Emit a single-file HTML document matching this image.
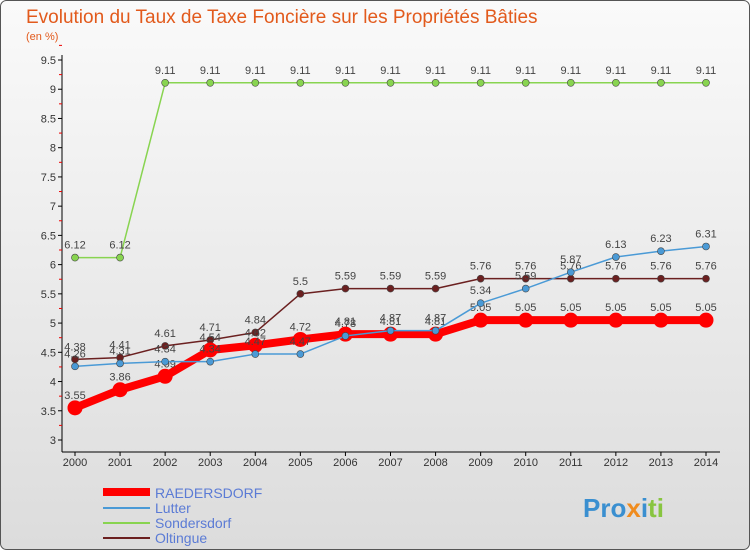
<!DOCTYPE html>
<html><head><meta charset="utf-8"><style>
body{margin:0;width:750px;height:550px;overflow:hidden;font-family:"Liberation Sans",sans-serif}
</style></head><body>
<svg width="750" height="550" xmlns="http://www.w3.org/2000/svg">
<defs><linearGradient id="bg" x1="0" y1="0" x2="0" y2="1"><stop offset="0" stop-color="#fafafa"/><stop offset="1" stop-color="#dcdcdc"/></linearGradient></defs>
<rect x="0.5" y="0.5" width="749" height="549" rx="6" fill="url(#bg)" stroke="#555"/>
<text x="26" y="23" font-size="19" fill="#e25a1c">Evolution du Taux de Taxe Foncière sur les Propriétés Bâties</text>
<text x="26" y="40" font-size="11" fill="#e25a1c">(en %)</text>
<g id="axes"></g><g id="series"></g>
<g>
<line x1="103" y1="492" x2="150" y2="492" stroke="#f00" stroke-width="8"/>
<text x="155" y="498" font-size="14" fill="#5b7bd5">RAEDERSDORF</text>
<line x1="103" y1="508" x2="150" y2="508" stroke="#4a9ad6" stroke-width="2"/>
<text x="155" y="513" font-size="14" fill="#5b7bd5">Lutter</text>
<line x1="103" y1="523" x2="150" y2="523" stroke="#88d450" stroke-width="2"/>
<text x="155" y="528" font-size="14" fill="#5b7bd5">Sondersdorf</text>
<line x1="103" y1="538" x2="150" y2="538" stroke="#6b2020" stroke-width="2"/>
<text x="155" y="543" font-size="14" fill="#5b7bd5">Oltingue</text>
</g>
<text x="583" y="517" font-size="26" font-weight="bold"><tspan fill="#3a8fd0">Pro</tspan><tspan fill="#f08c1e">x</tspan><tspan fill="#3a8fd0">i</tspan><tspan fill="#88c540">ti</tspan></text>
</svg>
<script>
const years=[2000,2001,2002,2003,2004,2005,2006,2007,2008,2009,2010,2011,2012,2013,2014];
const yTicks=[3,3.5,4,4.5,5,5.5,6,6.5,7,7.5,8,8.5,9,9.5];
const raedersdorf=[3.55,3.86,4.09,4.54,4.62,4.72,4.81,4.81,4.81,5.05,5.05,5.05,5.05,5.05,5.05];
const lutter=[4.26,4.31,4.34,4.34,4.47,4.47,4.78,4.87,4.87,5.34,5.59,5.87,6.13,6.23,6.31];
const sondersdorf=[6.12,6.12,9.11,9.11,9.11,9.11,9.11,9.11,9.11,9.11,9.11,9.11,9.11,9.11,9.11];
const oltingue=[4.38,4.41,4.61,4.71,4.84,5.5,5.59,5.59,5.59,5.76,5.76,5.76,5.76,5.76,5.76];
const NS="http://www.w3.org/2000/svg";
const x=i=>75+i*(706-75)/(years.length-1);
const y=v=>440-(v-3)*(380/6.5);
function mk(t,a,p){const e=document.createElementNS(NS,t);for(const k in a)e.setAttribute(k,a[k]);p.appendChild(e);return e;}
const ax=document.getElementById('axes');
let l=mk('line',{x1:62,y1:55,x2:62,y2:452,stroke:'#000'},ax);


l=mk('line',{x1:62,y1:452,x2:720,y2:452,stroke:'#000'},ax);


yTicks.forEach(v=>{
 const m=mk('line',{x1:58,y1:y(v),x2:62,y2:y(v),stroke:'#000'},ax);
 
 
 const mm=mk('line',{x1:59,y1:y(v+0.25),x2:62,y2:y(v+0.25),stroke:'#e00'},ax);
 
 
 const t=mk('text',{x:56,y:y(v)+4,'font-size':11,'text-anchor':'end',fill:'#333'},ax);t.textContent=v;
 
 
});
years.forEach((yr,i)=>{
 const m=mk('line',{x1:x(i),y1:452,x2:x(i),y2:456,stroke:'#000'},ax);
 
 
 const t=mk('text',{x:x(i),y:466,'font-size':11,'text-anchor':'middle',fill:'#333'},ax);t.textContent=yr;
 
 
});
const sg=document.getElementById('series');
function draw(d,name,col,w,r){
 const g=mk('g',{},sg);
 
 
 const p=mk('polyline',{points:d.map((v,i)=>x(i)+','+y(v)).join(' '),fill:'none',stroke:col,'stroke-width':w,'stroke-linejoin':'round'},g);
 
 
 d.forEach((v,i)=>{
  const c=mk('circle',{cx:x(i),cy:y(v),r:r,fill:col,stroke:'#444','stroke-width':r>5?0:0.6},g);
  
  
  const t=mk('text',{x:x(i),y:y(v)-9,'font-size':11,'text-anchor':'middle',fill:'#444'},g);t.textContent=v;
  
  
 });
}
draw(sondersdorf,'sondersdorf','#88d450',1.5,3.5);
draw(oltingue,'oltingue','#6b2020',1.5,3.5);
draw(raedersdorf,'raedersdorf','#f00',8,7.5);
draw(lutter,'lutter','#4a9ad6',1.5,3.5);
</script>
</body></html>
